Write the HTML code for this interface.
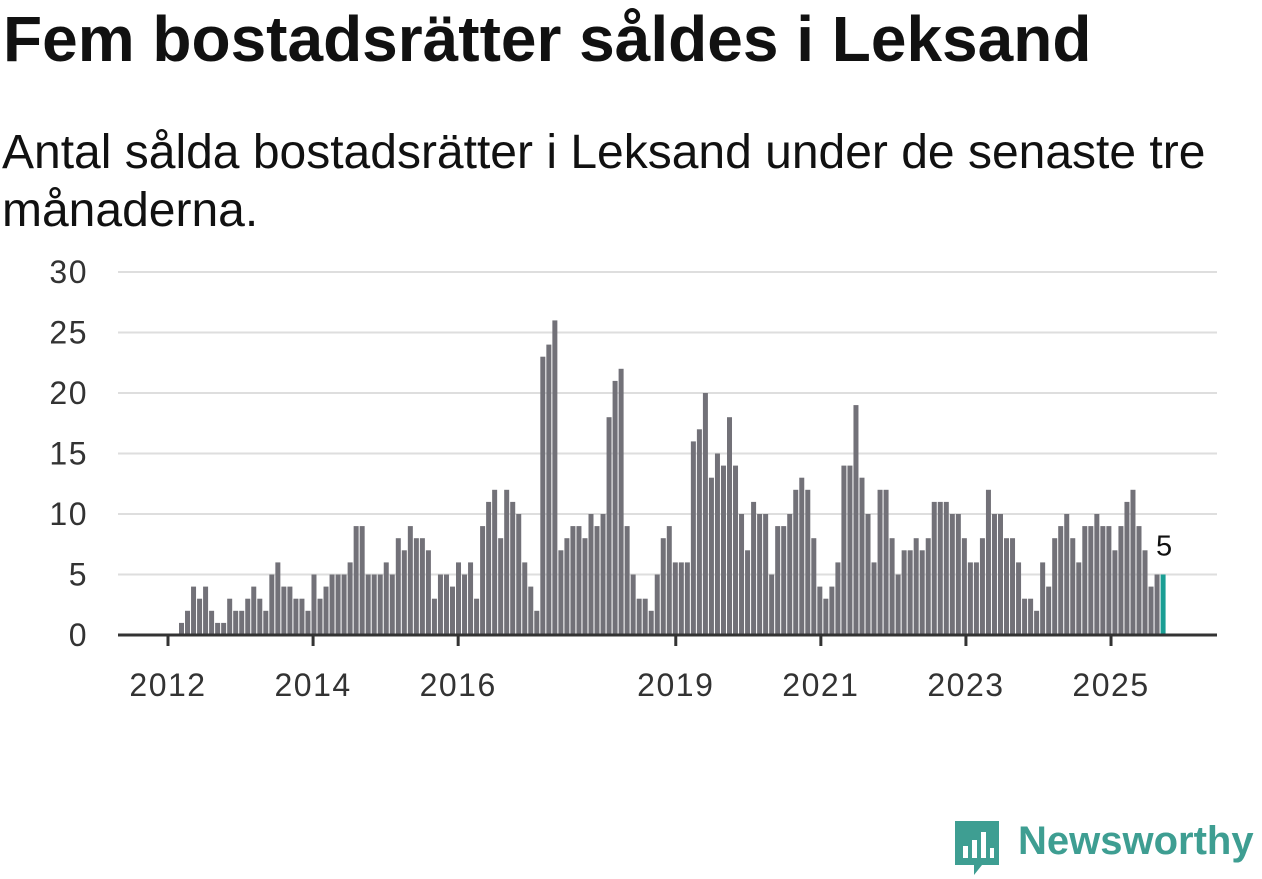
<!DOCTYPE html>
<html><head><meta charset="utf-8"><style>
body{margin:0;width:1262px;height:879px;background:#fff;font-family:"Liberation Sans","DejaVu Sans",sans-serif;overflow:hidden;position:relative}
h1{position:absolute;left:3px;top:2px;margin:0;font-size:64px;font-weight:bold;color:#111;white-space:nowrap}
.sub{position:absolute;left:2px;top:124px;margin:0;font-size:48px;line-height:58px;color:#111;width:1240px}
</style></head><body>
<h1>Fem bostadsrätter såldes i Leksand</h1>
<p class="sub">Antal sålda bostadsrätter i Leksand under de senaste tre månaderna.</p>
<svg id="chart" width="1262" height="879" style="position:absolute;left:0;top:0"></svg>
<div style="position:absolute;left:952px;top:818px;display:flex;align-items:center">
<svg width="50" height="60" viewBox="0 0 50 60"><path d="M3 3h44v44H30l-8 10v-10H3z" fill="#3e9e92"/><rect x="11" y="28" width="5" height="12" fill="#fff"/><rect x="20" y="22" width="5" height="18" fill="#fff"/><rect x="29" y="14" width="5" height="26" fill="#fff"/><rect x="38" y="30" width="4" height="10" fill="#fff"/></svg>
<span style="font-size:40px;color:#3e9e92;margin-left:16px;font-weight:bold;margin-top:-14px">Newsworthy</span></div>
<script>
const values=[1,2,4,3,4,2,1,1,3,2,2,3,4,3,2,5,6,4,4,3,3,2,5,3,4,5,5,5,6,9,9,5,5,5,6,5,8,7,9,8,8,7,3,5,5,4,6,5,6,3,9,11,12,8,12,11,10,6,4,2,23,24,26,7,8,9,9,8,10,9,10,18,21,22,9,5,3,3,2,5,8,9,6,6,6,16,17,20,13,15,14,18,14,10,7,11,10,10,5,9,9,10,12,13,12,8,4,3,4,6,14,14,19,13,10,6,12,12,8,5,7,7,8,7,8,11,11,11,10,10,8,6,6,8,12,10,10,8,8,6,3,3,2,6,4,8,9,10,8,6,9,9,10,9,9,7,9,11,12,9,7,4,5,5];
const yTicks=[0,5,10,15,20,25,30];
const xTickYears=[2012,2014,2016,2019,2021,2023,2025];
const svg=document.getElementById('chart');const NS='http://www.w3.org/2000/svg';
function y(v){return 635-v*12.1;}
function xi(i){return 181.5+i*6.022;}
function xYear(yr){return 168+(yr-2012)*72.54;}
function mk(t,a){const e=document.createElementNS(NS,t);for(const k in a)e.setAttribute(k,a[k]);svg.appendChild(e);return e;}
yTicks.forEach(v=>{
 const g=mk('line',{x1:118,x2:1217,y1:y(v),y2:y(v),stroke:'#dedede','stroke-width':2});
 
 
 const t=mk('text',{x:88,y:y(v)+11,'text-anchor':'end','font-size':32,'letter-spacing':1.5,fill:'#333'});t.textContent=v;
 
 
});
values.forEach((v,i)=>{
 const last=i===values.length-1;
 const r=mk('rect',{x:xi(i)-2.5,y:y(v),width:5,height:v*12.1,fill:last?'#1a9e94':'#727178'});
 
 
 if(last){const t=mk('text',{x:xi(i)+1,y:y(v)-19,'text-anchor':'middle','font-size':29,fill:'#111'});t.textContent=v;
 
 }
});
const ax=mk('line',{x1:118,x2:1217,y1:635,y2:635,stroke:'#333','stroke-width':3});


xTickYears.forEach(yr=>{
 const l=mk('line',{x1:xYear(yr),x2:xYear(yr),y1:635,y2:646,stroke:'#333','stroke-width':3});
 
 
 const t=mk('text',{x:xYear(yr),y:696,'text-anchor':'middle','font-size':32,'letter-spacing':1.5,fill:'#333'});t.textContent=yr;
 
 
});
</script>
</body></html>
